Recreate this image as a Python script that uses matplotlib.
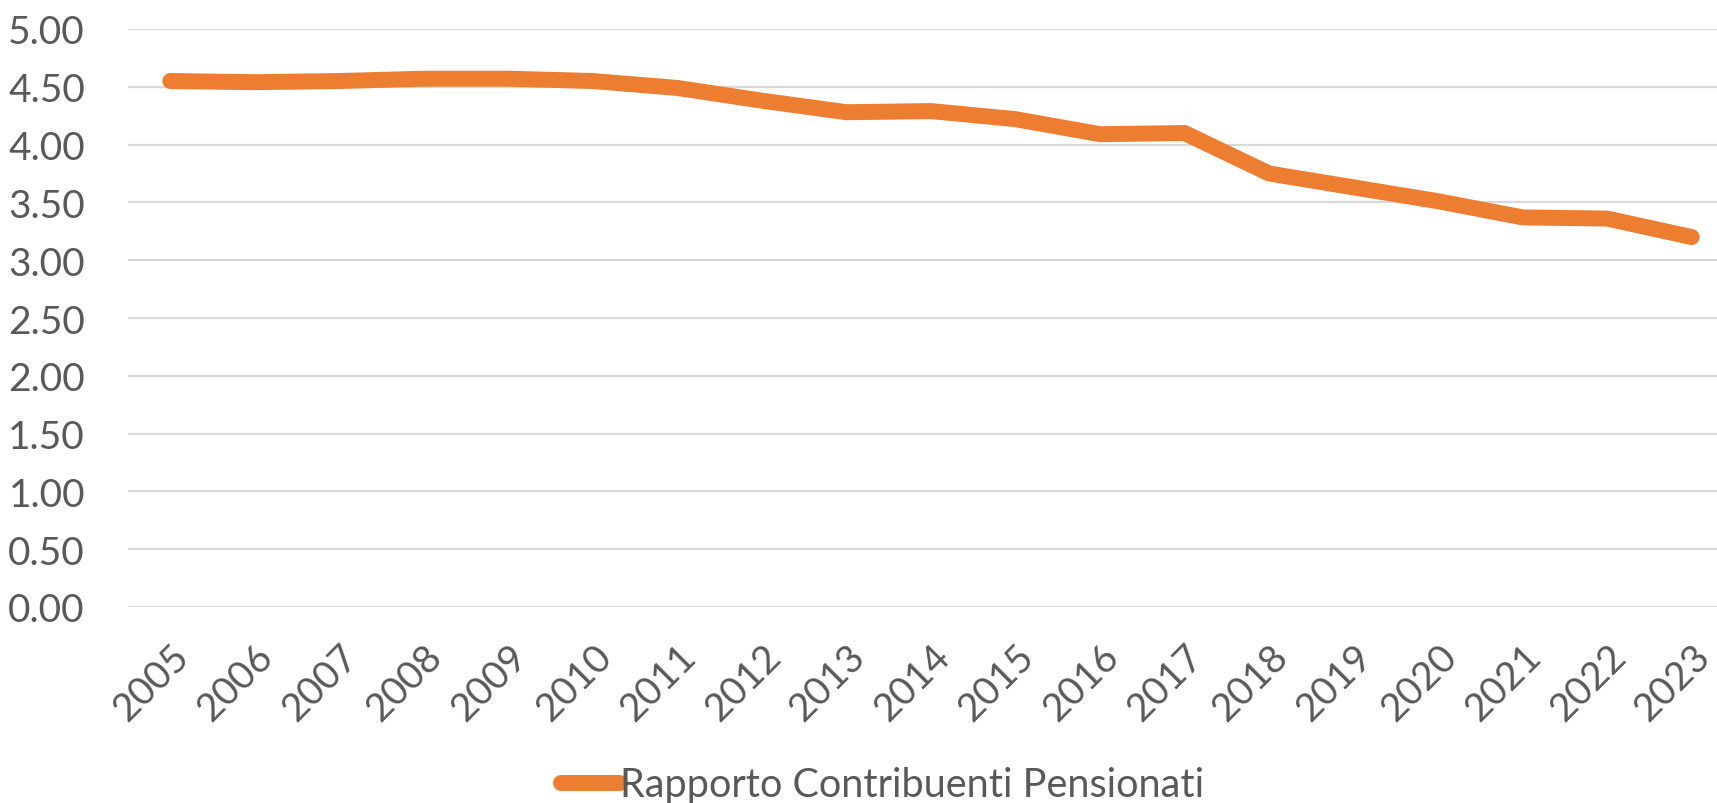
# Rapporto contribuenti / pensionati 2005-2023

import matplotlib.pyplot as plt

anni = [str(a) for a in range(2005, 2024)]
rapporto = [4.55, 4.54, 4.55, 4.57, 4.57, 4.55, 4.49, 4.38, 4.28, 4.29,
            4.22, 4.09, 4.10, 3.75, 3.63, 3.51, 3.37, 3.36, 3.20]
y_ticks = [0.0, 0.5, 1.0, 1.5, 2.0, 2.5, 3.0, 3.5, 4.0, 4.5, 5.0]

grigio = "#595959"
arancio = "#ED7D31"

plt.rcParams['font.family'] = ['Lato', 'DejaVu Sans']

fig = plt.figure(figsize=(17.17, 8.04), dpi=100)
ax = fig.add_axes([128 / 1717, 1 - 608 / 804, (1734 - 128) / 1717, (608 - 30) / 804])

x = list(range(len(anni)))
ax.plot(x, rapporto, color=arancio, lw=11.5, solid_capstyle='round',
        solid_joinstyle='round', label="Rapporto Contribuenti Pensionati", zorder=3)

ax.set_xlim(-0.5, len(anni) - 0.5)
ax.set_ylim(0, 5)
ax.set_yticks(y_ticks)
ax.set_yticklabels([f"{v:.2f}" for v in y_ticks])
ax.set_xticks(x)
ax.set_xticklabels(anni, rotation=45, ha='right', rotation_mode='anchor')

ax.grid(axis='y', color='#d9d9d9', lw=1.6)
ax.set_axisbelow(True)
for s in ax.spines.values():
    s.set_visible(False)
ax.tick_params(axis='both', length=0, labelsize=28, colors=grigio)
ax.tick_params(axis='y', pad=31)
ax.tick_params(axis='x', pad=22)

leg = fig.legend(loc='center', bbox_to_anchor=(0.514, 1 - 786 / 804), frameon=False,
                 fontsize=28.5, handlelength=1.5, handletextpad=0.0, labelcolor=grigio)

fig.savefig("out.png", dpi=100)
